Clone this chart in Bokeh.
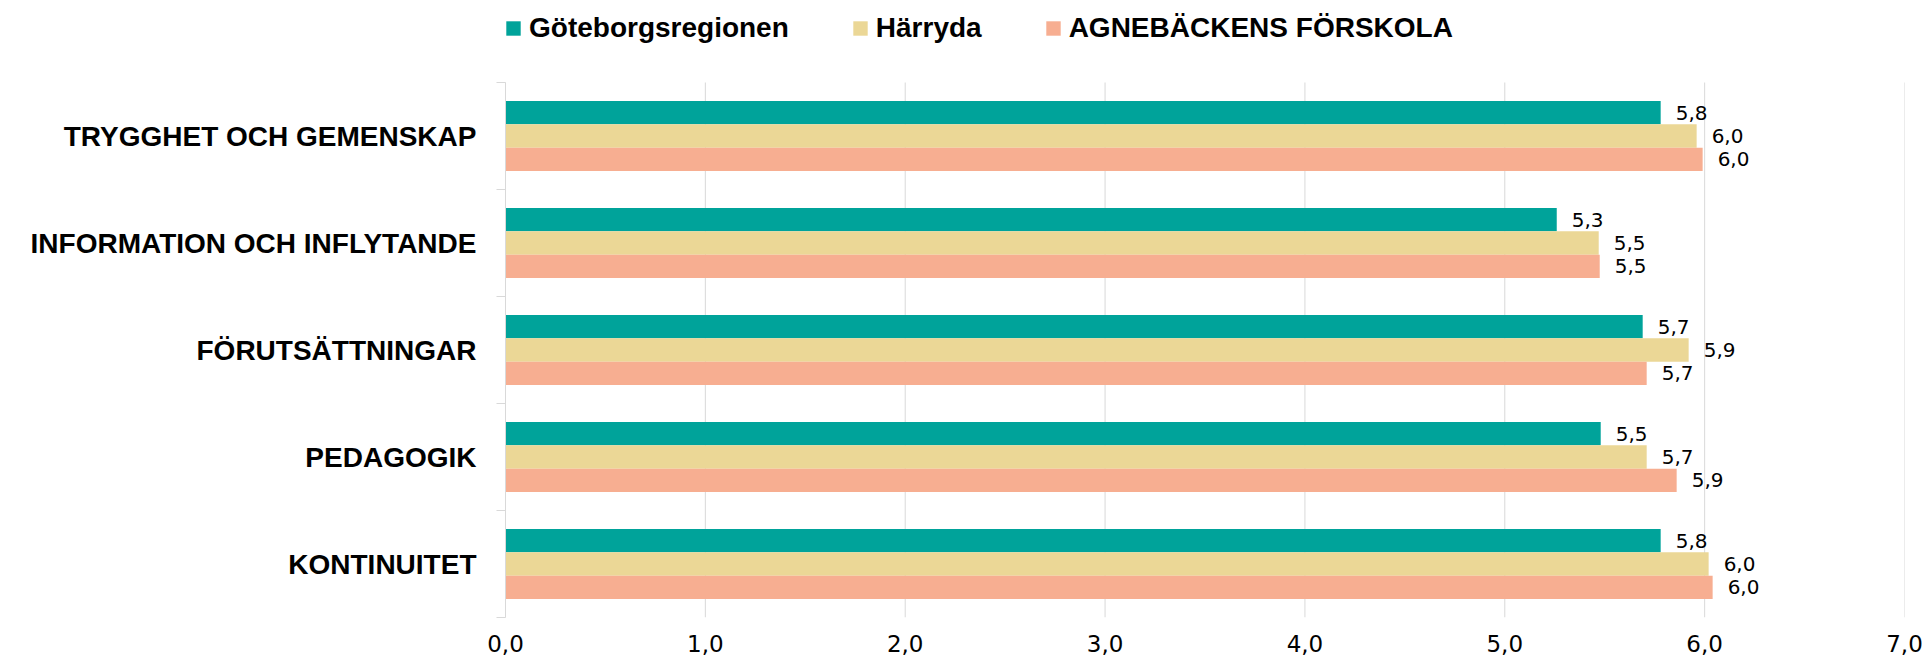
from bokeh.plotting import figure
from bokeh.models import Range1d, FixedTicker, Legend, LegendItem, ColumnDataSource
from bokeh.core.properties import value
from bokeh.embed import file_html
from bokeh.resources import INLINE

# ---- data ----
categories = [
    "TRYGGHET OCH GEMENSKAP",
    "INFORMATION OCH INFLYTANDE",
    "FÖRUTSÄTTNINGAR",
    "PEDAGOGIK",
    "KONTINUITET",
]
series_names = ["Göteborgsregionen", "Härryda", "AGNEBÄCKENS FÖRSKOLA"]
goteborgsregionen = [5.78, 5.26, 5.69, 5.48, 5.78]
harryda = [5.96, 5.47, 5.92, 5.71, 6.02]
agnebackens = [5.99, 5.475, 5.71, 5.86, 6.04]
x_ticks = [0, 1, 2, 3, 4, 5, 6, 7]
x_tick_labels = ["0,0", "1,0", "2,0", "3,0", "4,0", "5,0", "6,0", "7,0"]

series_values = [goteborgsregionen, harryda, agnebackens]
colors = ["#00A39A", "#EBD796", "#F7AE91"]

# ---- layout constants (pixels) ----
W, H = 1926, 662
left_px, right_px, bottom_px = 505, 22, 45
plot_h_px = 535                     # height of the bar area (5 bands)
frame_h_px = H - bottom_px          # frame runs to the top, legend lives above bars

n = len(categories)
y_top = n * frame_h_px / plot_h_px  # extra room above bars for the legend
bar_h = 0.218
offsets = [bar_h, 0.0, -bar_h]
centers = [n - i - 0.5 for i in range(n)]

p = figure(
    width=W, height=H,
    x_range=Range1d(0, 7), y_range=Range1d(0, y_top),
    output_backend="svg", toolbar_location=None,
    min_border_left=left_px, min_border_right=right_px,
    min_border_top=0, min_border_bottom=bottom_px,
    outline_line_color=None,
)

# vertical grid lines limited to the bar area
p.xgrid.grid_line_color = None
p.ygrid.grid_line_color = None
p.segment(x0=x_ticks, x1=x_ticks, y0=[0] * len(x_ticks), y1=[n] * len(x_ticks),
          line_color="#D9D9D9", line_width=1)

renderers = []
for name, vals, col, off in zip(series_names, series_values, colors, offsets):
    ys = [c + off for c in centers]
    labels = [f"{v:.1f}".replace(".", ",") for v in vals]
    src = ColumnDataSource(dict(y=ys, right=vals, label=labels))
    r = p.hbar(y="y", left=0, right="right", height=bar_h, source=src,
               fill_color=col, line_color=None)
    renderers.append(r)
    p.text(x="right", y="y", text="label", source=src, x_offset=15,
           text_align="left", text_baseline="middle",
           text_font=value("DejaVu Sans"), text_font_size="20px",
           text_color="#000000")

# x axis
p.xaxis.ticker = FixedTicker(ticks=x_ticks)
p.xaxis.major_label_overrides = {t: l for t, l in zip(x_ticks, x_tick_labels)}
p.xaxis.axis_line_color = None
p.xaxis.major_tick_line_color = None
p.xaxis.minor_tick_line_color = None
p.xaxis.major_tick_out = 0
p.xaxis.major_tick_in = 0
p.xaxis.major_label_standoff = 17
p.xaxis.major_label_text_font = "DejaVu Sans"
p.xaxis.major_label_text_font_size = "23px"
p.xaxis.major_label_text_color = "#000000"

# y axis
p.yaxis.ticker = FixedTicker(ticks=centers, minor_ticks=list(range(n + 1)))
p.yaxis.major_label_overrides = {c: cat for c, cat in zip(centers, categories)}
p.yaxis.bounds = (0, n)
p.yaxis.major_tick_line_color = None
p.yaxis.major_tick_out = 0
p.yaxis.major_tick_in = 0
p.yaxis.minor_tick_out = 9
p.yaxis.minor_tick_in = 0
p.yaxis.minor_tick_line_color = "#D9D9D9"
p.yaxis.axis_line_color = "#D9D9D9"
p.yaxis.major_label_standoff = 20
p.yaxis.major_label_text_font = "Liberation Sans"
p.yaxis.major_label_text_font_style = "bold"
p.yaxis.major_label_text_font_size = "28px"
p.yaxis.major_label_text_color = "#000000"

legend = Legend(
    items=[LegendItem(label=nm, renderers=[r]) for nm, r in zip(series_names, renderers)],
    orientation="horizontal", location=(-1, frame_h_px - 44),
    padding=0, margin=0, spacing=62,
    glyph_width=18, glyph_height=18, label_standoff=7,
    border_line_color=None, background_fill_alpha=0,
    label_text_font="Liberation Sans", label_text_font_style="bold",
    label_text_font_size="28px", label_text_color="#000000",
)
p.add_layout(legend)

open("out.html", "w").write(file_html(p, INLINE))
